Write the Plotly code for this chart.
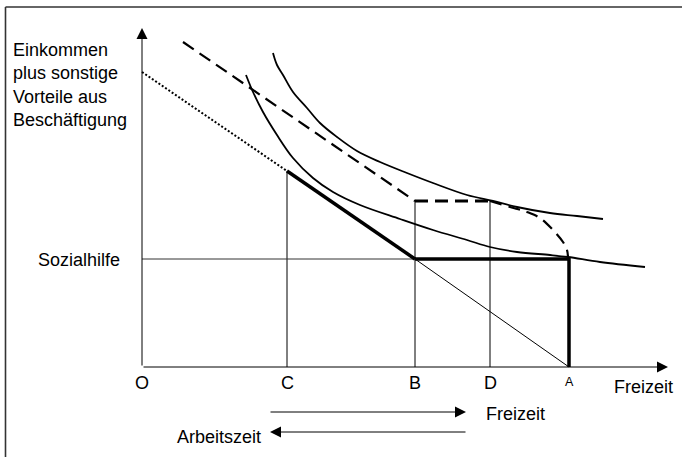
import plotly.graph_objects as go

# ---------------- data (diagram units: Freizeit to the right, Einkommen upward) ----------------
x_tick_labels = ["O", "C", "B", "D", "A"]
x_tick_values = [0, 145, 273, 348, 427]
sozialhilfe_level = 108
y_axis_top = 339
x_axis_end = 526

# budget line (dotted part, thick part C-B, thin part B-A)
budget_dotted_x = [0, 145]
budget_dotted_y = [295, 196]
budget_thick_x = [145, 273]
budget_thick_y = [196, 108]
budget_thin_x = [273, 427]
budget_thin_y = [108, 0]

# thick kinked constraint along Sozialhilfe level and down at A
kink_x = [273, 427, 427]
kink_y = [108, 108, 0]

# dashed budget line (with extra advantages from employment)
dashed_line_x = [41, 273, 348]
dashed_line_y = [325, 166, 166]
dashed_curve_x = [348, 368, 385, 398, 411, 421, 425, 426]
dashed_curve_y = [166, 160, 155, 149, 137, 125, 117, 110]

# indifference curves
ic_high_x = [131, 135, 141, 151, 165, 178, 195, 215, 238, 265, 291, 325, 351, 375, 408, 435, 461]
ic_high_y = [314, 302, 292, 275, 259, 244, 230, 216, 205, 194, 184, 172, 166, 160, 154, 151, 148]
ic_low_x = [104, 111, 121, 135, 151, 171, 191, 218, 258, 291, 325, 348, 375, 408, 426, 458, 503]
ic_low_y = [292, 275, 255, 232, 209, 189, 175, 162, 148, 137, 127, 120, 115, 112, 110, 105, 100]

# vertical guide lines: (x, top)
guide_x = [145, 273, 348]
guide_top = [196, 166, 166]

FONT = "Liberation Sans, Arial, sans-serif"
BLACK = "#000000"

fig = go.Figure()


def line(x, y, width=1.0, dash=None, shape="linear", color=BLACK):
    fig.add_trace(go.Scatter(
        x=x, y=y, mode="lines",
        line=dict(color=color, width=width, dash=dash, shape=shape, smoothing=1.0),
        hoverinfo="skip", showlegend=False))


# guide lines
for gx, gt in zip(guide_x, guide_top):
    line([gx, gx], [0, gt], width=1)
line([0, kink_x[0]], [sozialhilfe_level, sozialhilfe_level], width=1, color="#333333")

# budget line pieces
line(budget_dotted_x, budget_dotted_y, width=2, dash="2px,2px")
line(budget_thick_x, budget_thick_y, width=3.5)
line(budget_thin_x, budget_thin_y, width=1)
line(kink_x, kink_y, width=3.5)

# dashed constraint
line(dashed_line_x[:2], dashed_line_y[:2], width=2.2, dash="13px,7px")
line(dashed_line_x[1:], dashed_line_y[1:], width=3.2, dash="13px,7px")
line(dashed_curve_x, dashed_curve_y, width=2.2, dash="12px,7px", shape="spline")

# indifference curves
line(ic_high_x, ic_high_y, width=1.8, shape="spline")
line(ic_low_x, ic_low_y, width=1.8, shape="spline")

annotations = []
# axes drawn as arrows
annotations.append(dict(x=0, y=y_axis_top, ax=0, ay=0, xref="x", yref="y", axref="x", ayref="y",
                        text="", showarrow=True, arrowhead=2, arrowsize=2.2, arrowwidth=1,
                        arrowcolor=BLACK, standoff=0))
annotations.append(dict(x=x_axis_end, y=0, ax=0, ay=0, xref="x", yref="y", axref="x", ayref="y",
                        text="", showarrow=True, arrowhead=2, arrowsize=2.2, arrowwidth=1,
                        arrowcolor=BLACK, standoff=0))
# direction arrows below the axis
annotations.append(dict(x=324, y=-45, ax=127, ay=-45, xref="x", yref="y", axref="x", ayref="y",
                        text="", showarrow=True, arrowhead=2, arrowsize=2.2, arrowwidth=1,
                        arrowcolor=BLACK, standoff=0))
annotations.append(dict(x=128, y=-65, ax=325, ay=-65, xref="x", yref="y", axref="x", ayref="y",
                        text="", showarrow=True, arrowhead=2, arrowsize=2.2, arrowwidth=1,
                        arrowcolor=BLACK, standoff=0))

# tick labels
for lab, xv in zip(x_tick_labels, x_tick_values):
    small = lab == "A"
    annotations.append(dict(x=xv, y=-15 if small else -16, xref="x", yref="y", text=lab,
                            showarrow=False, xanchor="center", yanchor="middle",
                            font=dict(family=FONT, size=12.5 if small else 18, color=BLACK)))

texts = [
    ("Einkommen<br>plus sonstige<br>Vorteile aus<br>Beschäftigung", -131, 282, "left"),
    ("Sozialhilfe", -106, 107, "left"),
    ("Freizeit", 470, -20, "left"),
    ("Freizeit", 342, -47, "left"),
    ("Arbeitszeit", 121, -70, "right"),
]
for t, tx, ty, anc in texts:
    annotations.append(dict(x=tx, y=ty, xref="x", yref="y", text=t, showarrow=False,
                            xanchor=anc, yanchor="middle", align="left",
                            font=dict(family=FONT, size=18, color=BLACK)))

fig.update_layout(
    width=682, height=457,
    margin=dict(l=0, r=0, t=0, b=0),
    paper_bgcolor="white", plot_bgcolor="white",
    xaxis=dict(range=[-142, 540], visible=False, fixedrange=True),
    yaxis=dict(range=[-90, 367], visible=False, fixedrange=True),
    annotations=annotations,
    shapes=[
        dict(type="line", xref="paper", yref="paper", x0=5.5 / 682, x1=5.5 / 682,
             y0=1 - 7 / 457, y1=-0.05, line=dict(color="#333333", width=1.6)),
        dict(type="line", xref="paper", yref="paper", x0=5.5 / 682, x1=1.05,
             y0=1 - 7 / 457, y1=1 - 7 / 457, line=dict(color="#333333", width=1.6)),
    ],
)

fig.write_html("out.html", config={"displayModeBar": False},
               post_script="document.body.style.margin='0';document.body.style.overflow='hidden';")
